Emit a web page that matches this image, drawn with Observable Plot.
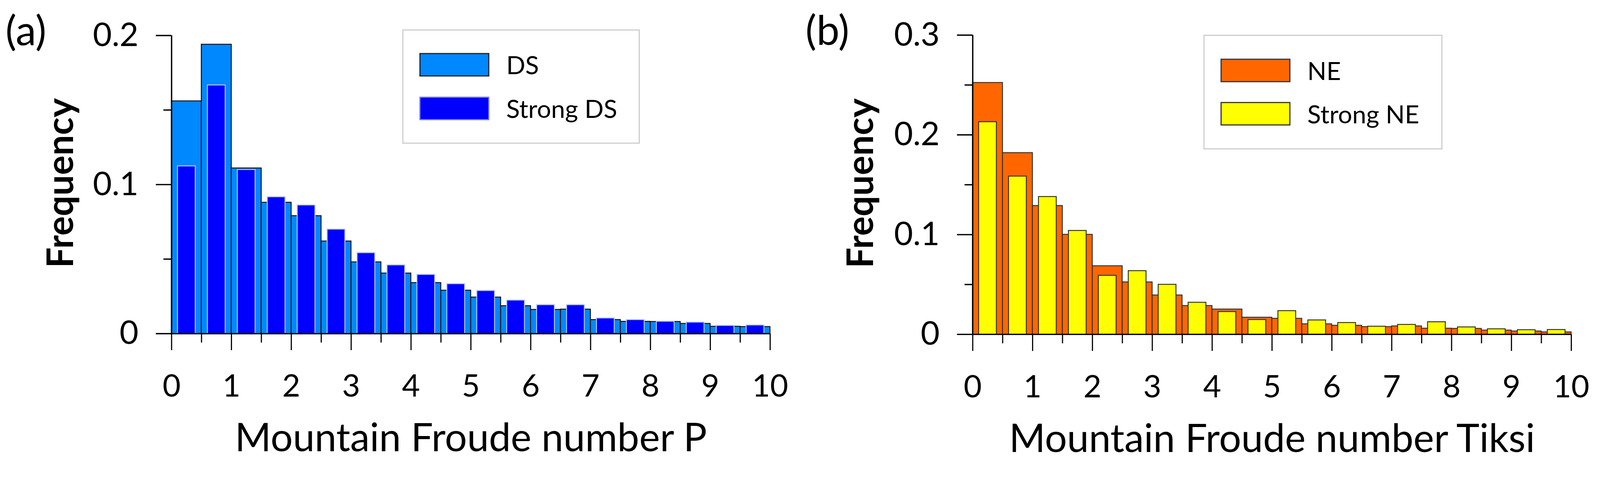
<!DOCTYPE html>
<html>
<head>
<meta charset="utf-8">
<script src="https://cdn.jsdelivr.net/npm/d3@7"></script>
<script src="https://cdn.jsdelivr.net/npm/@observablehq/plot@0.6"></script>
<style>
  html, body { margin: 0; padding: 0; background: white; overflow: hidden; }
  #wrap { position: relative; width: 4210px; height: 1222px; overflow: hidden; font-family: Lato, sans-serif; transform-origin: 0 0; }
  #wrap > svg { position: absolute; top: 0; }
</style>
</head>
<body>
<div id="wrap"></div>
<script>
// histogram bins of width 0.5 over the Froude number
const binStarts = [0, 0.5, 1, 1.5, 2, 2.5, 3, 3.5, 4, 4.5, 5, 5.5, 6, 6.5, 7, 7.5, 8, 8.5, 9, 9.5];
const binWidth = 0.5;

// panel (a): P
const dsFreq = [0.156, 0.194, 0.111, 0.088, 0.079, 0.062, 0.048, 0.0405, 0.0341, 0.029,
  0.0244, 0.0186, 0.0161, 0.0163, 0.0093, 0.0081, 0.008, 0.0067, 0.0048, 0.0046];
const strongDsFreq = [0.1124, 0.1667, 0.110, 0.0917, 0.0862, 0.070, 0.0542, 0.046, 0.0396, 0.0334,
  0.0288, 0.0224, 0.0193, 0.0193, 0.0104, 0.0093, 0.0082, 0.0076, 0.0054, 0.0057];

// panel (b): Tiksi
const neFreq = [0.2523, 0.182, 0.129, 0.1001, 0.0686, 0.0524, 0.0393, 0.0287, 0.0252, 0.017,
  0.0159, 0.0104, 0.0089, 0.0076, 0.0083, 0.006, 0.0058, 0.0041, 0.0032, 0.0023];
const strongNeFreq = [0.213, 0.1585, 0.138, 0.104, 0.059, 0.0637, 0.050, 0.032, 0.0227, 0.0147,
  0.0236, 0.0143, 0.0117, 0.008, 0.0098, 0.0125, 0.0073, 0.0054, 0.0045, 0.0047];

const xTicks = [0, 1, 2, 3, 4, 5, 6, 7, 8, 9, 10];
const xMinorTicks = [0.5, 1.5, 2.5, 3.5, 4.5, 5.5, 6.5, 7.5, 8.5, 9.5];

const rows = (values) =>
  values.map((value, i) => ({ x1: binStarts[i], x2: binStarts[i] + binWidth, value }));

const yFormat = (d) => (d === 0 ? "0" : d3.format(".1f")(d));

const wrap = document.getElementById("wrap");

// keep the whole 4210x1222 figure inside the viewport
const fit = Math.min(1, window.innerWidth / 4210, window.innerHeight / 1222);
if (fit < 1) wrap.style.transform = `scale(${fit})`;

function panel(cfg) {
  const chart = Plot.plot({
    width: 2105,
    height: 1222,
    marginLeft: cfg.marginLeft,
    marginRight: cfg.marginRight,
    marginTop: cfg.marginTop,
    marginBottom: cfg.marginBottom,
    style: { background: "white", fontFamily: "Lato, sans-serif", color: "black" },
    x: { domain: [0, 10] },
    y: { domain: [0, cfg.yMax] },
    marks: [
      Plot.rectY(rows(cfg.all), {
        x1: "x1", x2: "x2", y: "value",
        fill: cfg.allColor, stroke: cfg.allStroke, strokeWidth: 2.5
      }),
      Plot.rectY(rows(cfg.strong), {
        x1: "x1", x2: "x2", y: "value",
        insetLeft: 16, insetRight: 16,
        fill: cfg.strongColor, stroke: cfg.strongStroke, strokeWidth: 2.5
      }),
      Plot.ruleX([0], { stroke: "black", strokeWidth: 3.5 }),
      Plot.ruleY([0], { stroke: "black", strokeWidth: 3.5 }),
      Plot.axisY({
        ticks: cfg.yTicks, tickFormat: yFormat, tickSize: 41, tickPadding: 46, fontSize: 86,
        strokeWidth: 3.5, label: null
      }),
      Plot.axisY({
        ticks: cfg.yMinorTicks, tickSize: 21, tickFormat: () => "",
        strokeWidth: 3.5, label: null
      }),
      Plot.axisX({
        ticks: xTicks, tickSize: 44, tickPadding: 64, fontSize: 82,
        strokeWidth: 3, label: null
      }),
      Plot.axisX({
        ticks: xMinorTicks, tickSize: 24, tickFormat: () => "",
        strokeWidth: 3, label: null
      }),
      Plot.text([cfg.xLabel], {
        frameAnchor: "bottom", lineAnchor: "bottom", dy: 310,
        fontSize: 103, fill: "black"
      }),
      Plot.text(["Frequency"], {
        frameAnchor: "left", rotate: -90, textAnchor: "middle", lineAnchor: "middle",
        dx: 161 - cfg.marginLeft, dy: -4,
        fontSize: 96, fontWeight: "bold", fill: "black"
      }),
      Plot.text([cfg.tag], {
        frameAnchor: "top-left", textAnchor: "start", lineAnchor: "bottom",
        dx: 14 - cfg.marginLeft, dy: 26,
        fontSize: 108, fill: "black"
      })
    ]
  });
  chart.style.left = cfg.left + "px";
  wrap.append(chart);
}

function legend(cfg) {
  const svg = d3.create("svg")
    .attr("width", cfg.w + 4)
    .attr("height", cfg.h + 4)
    .style("left", (cfg.left - 2) + "px")
    .style("top", (cfg.top - 2) + "px")
    .style("font-family", "Lato, sans-serif");
  svg.append("rect")
    .attr("x", 2).attr("y", 2).attr("width", cfg.w).attr("height", cfg.h)
    .attr("fill", "white").attr("stroke", "#cccccc").attr("stroke-width", 3);
  cfg.items.forEach((item) => {
    svg.append("rect")
      .attr("x", 47).attr("y", item.top - cfg.top + 2)
      .attr("width", 181).attr("height", 59)
      .attr("fill", item.fill).attr("stroke", item.stroke).attr("stroke-width", 3);
    svg.append("text")
      .attr("x", 274).attr("y", item.baseline - cfg.top + 2)
      .attr("font-size", 66)
      .text(item.label);
  });
  wrap.append(svg.node());
}

panel({
  left: 0, marginLeft: 451, marginRight: 79, marginTop: 93, marginBottom: 344,
  yMax: 0.2, yTicks: [0, 0.1, 0.2], yMinorTicks: [0.05, 0.15],
  all: dsFreq, strong: strongDsFreq,
  allColor: "#0088ff", allStroke: "#111111",
  strongColor: "#0000ff", strongStroke: "#b3c6ff",
  xLabel: "Mountain Froude number P", tag: "(a)"
});

panel({
  left: 2105, marginLeft: 454, marginRight: 76, marginTop: 92, marginBottom: 342,
  yMax: 0.3, yTicks: [0, 0.1, 0.2, 0.3], yMinorTicks: [0.05, 0.15, 0.25],
  all: neFreq, strong: strongNeFreq,
  allColor: "#ff6600", allStroke: "#333333",
  strongColor: "#ffff00", strongStroke: "#333333",
  xLabel: "Mountain Froude number Tiksi", tag: "(b)"
});

legend({
  left: 1060, top: 79, w: 622, h: 298,
  items: [
    { label: "DS", fill: "#0088ff", stroke: "#222222", top: 141, baseline: 195 },
    { label: "Strong DS", fill: "#0000ff", stroke: "#7777ff", top: 256, baseline: 310 }
  ]
});

legend({
  left: 3168, top: 93, w: 626, h: 299,
  items: [
    { label: "NE", fill: "#ff6600", stroke: "#333333", top: 156, baseline: 211 },
    { label: "Strong NE", fill: "#ffff00", stroke: "#333333", top: 270, baseline: 325 }
  ]
});
</script>
</body>
</html>
